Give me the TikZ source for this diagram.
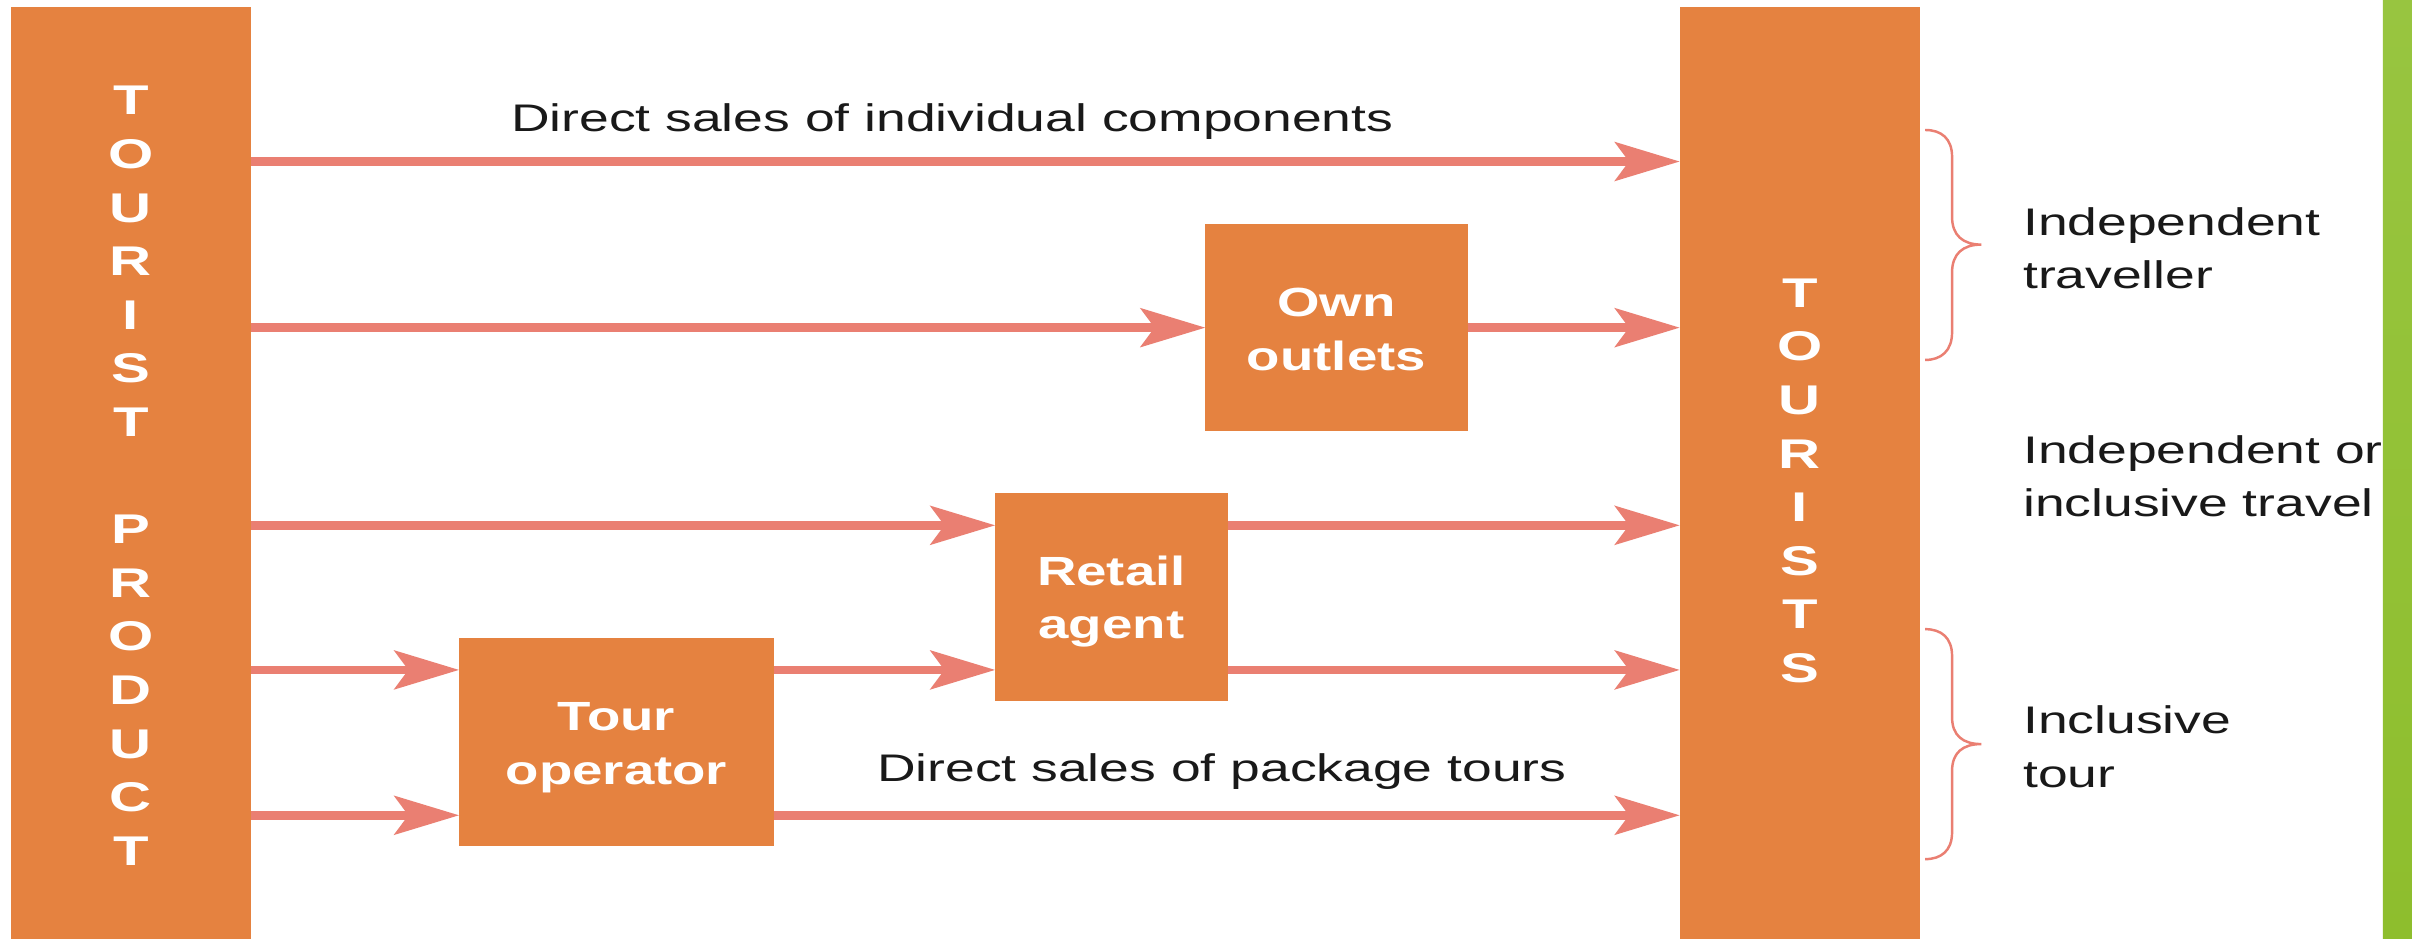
\documentclass[tikz,border=0pt]{standalone}
\usepackage{fontspec}
\setmainfont{Liberation Sans}
\usetikzlibrary{arrows.meta}
\definecolor{boxorange}{RGB}{229,130,64}
\definecolor{arrsalmon}{RGB}{234,127,114}
\definecolor{slidegreenA}{RGB}{152,197,64}
\definecolor{slidegreenB}{RGB}{142,190,45}
\newcommand{\lbltxt}[1]{\scalebox{1.39}[1]{\fontsize{25}{34.7}\selectfont\begin{tabular}[t]{@{}l@{}}#1\end{tabular}}}
\newcommand{\boxtxt}[1]{\scalebox{1.34}[1]{\fontsize{26.5}{35}\selectfont\bfseries\begin{tabular}[t]{@{}c@{}}#1\end{tabular}}}
\newcommand{\coltxt}[1]{\scalebox{1.4}[1]{\fontsize{27}{34.85}\selectfont\bfseries\begin{tabular}[t]{@{}c@{}}#1\end{tabular}}}
\tikzset{
  flowbox/.style={fill=boxorange, draw=none, inner sep=0pt, outer sep=0pt},
  boxlbl/.style={text=white, inner sep=0pt, anchor=base},
  plainlbl/.style={text=black!90, inner sep=0pt, anchor=base west},
  flow/.style={draw=arrsalmon, line width=5.6pt, -{Stealth[length=42pt,width=25pt,inset=9pt]}},
  bracestyle/.style={draw=arrsalmon, line width=1.6pt}
}
\begin{document}
\begin{tikzpicture}[x=1pt, y=-1pt]
\useasboundingbox (0,0) rectangle (1568,610);
\fill[white] (0,0) rectangle (1568,610);

% boxes
\node[flowbox, minimum width=155.7pt, minimum height=620pt] (prod) at (85.15,314.3) {};
\node[flowbox, minimum width=156pt, minimum height=620pt] (tourists) at (1170,314.3) {};
\node[flowbox, minimum width=170.4pt, minimum height=134.4pt] (own) at (868.8,212.8) {};
\node[flowbox, minimum width=151pt, minimum height=135pt] (retail) at (722.5,388.1) {};
\node[flowbox, minimum width=204.5pt, minimum height=135pt] (tour) at (400.75,482.5) {};

% box texts
\node[boxlbl] (prodT) at (85.15,74.7) {\coltxt{T\\O\\U\\R\\I\\S\\T\\ \\P\\R\\O\\D\\U\\C\\T}};
\node[boxlbl] (touristsT) at (1170,199.7) {\coltxt{T\\O\\U\\R\\I\\S\\T\\S}};
\node[boxlbl] (ownT) at (868.8,205.8) {\boxtxt{Own\\outlets}};
\node[boxlbl] (retailT) at (722.5,380.3) {\boxtxt{Retail\\agent}};
\node[boxlbl] (tourT) at (400.75,475) {\boxtxt{Tour\\operator}};

% row coordinates
\coordinate (r1) at (0,105);
\coordinate (r2) at (0,213);
\coordinate (r3) at (0,341.5);
\coordinate (r4) at (0,435.5);
\coordinate (r5) at (0,530);

% connectors
\draw[flow] (prod.east |- r1) -- (tourists.west |- r1);
\draw[flow] (prod.east |- r2) -- (own.west |- r2);
\draw[flow] (own.east |- r2) -- (tourists.west |- r2);
\draw[flow] (prod.east |- r3) -- (retail.west |- r3);
\draw[flow] (retail.east |- r3) -- (tourists.west |- r3);
\draw[flow] (prod.east |- r4) -- (tour.west |- r4);
\draw[flow] (tour.east |- r4) -- (retail.west |- r4);
\draw[flow] (retail.east |- r4) -- (tourists.west |- r4);
\draw[flow] (prod.east |- r5) -- (tour.west |- r5);
\draw[flow] (tour.east |- r5) -- (tourists.west |- r5);

% connector labels
\node[plainlbl] (lblA) at (332,85.6) {\lbltxt{Direct sales of individual components}};
\node[plainlbl] (lblB) at (570,508) {\lbltxt{Direct sales of package tours}};

% braces
\draw[bracestyle] (1251.5,84.5) .. controls (1262,84.5) and (1269,90) .. (1269,102)
  -- (1269,141) .. controls (1269,153) and (1276,159) .. (1288,159)
  .. controls (1276,159) and (1269,165) .. (1269,177)
  -- (1269,216) .. controls (1269,228) and (1262,234) .. (1251.5,234);
\draw[bracestyle] (1251.5,409) .. controls (1262,409) and (1269,414.5) .. (1269,426.5)
  -- (1269,466.2) .. controls (1269,478.2) and (1276,483.7) .. (1288,483.7)
  .. controls (1276,483.7) and (1269,489.2) .. (1269,501.2)
  -- (1269,541) .. controls (1269,553) and (1262,558.5) .. (1251.5,558.5);

% side labels
\node[plainlbl] (indep) at (1315,152.8) {\lbltxt{Independent\\traveller}};
\node[plainlbl] (either) at (1315,301) {\lbltxt{Independent or\\inclusive travel}};
\node[plainlbl] (incl) at (1315,477) {\lbltxt{Inclusive\\tour}};

% slide decoration
\shade[top color=slidegreenA, bottom color=slidegreenB] (1549,0) rectangle (1568,610);
\end{tikzpicture}
\end{document}
